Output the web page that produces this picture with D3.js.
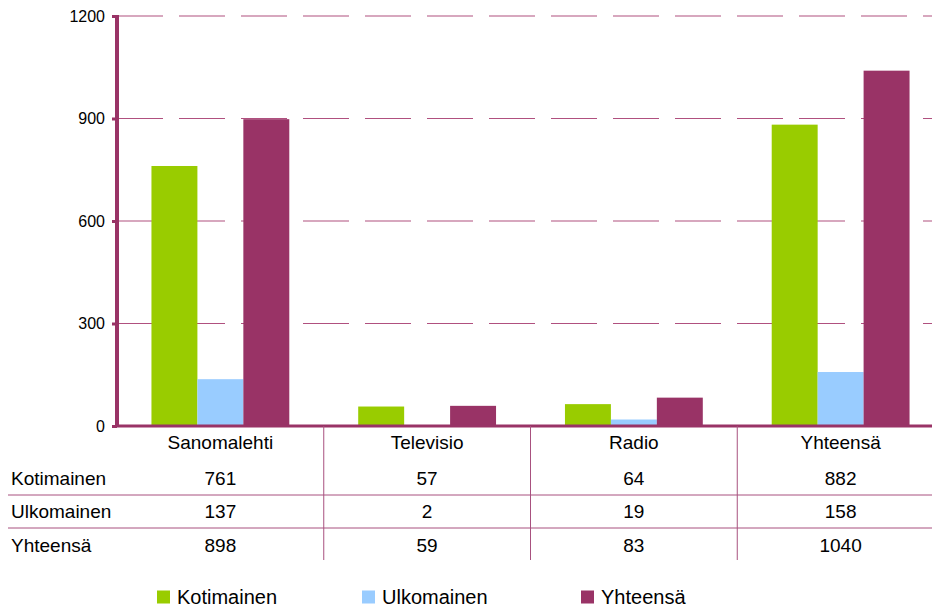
<!DOCTYPE html>
<html>
<head>
<meta charset="utf-8">
<script src="https://cdnjs.cloudflare.com/ajax/libs/d3/7.8.5/d3.min.js"></script>
<style>
  body { margin: 0; background: #fff; }
  text { font-family: "Liberation Sans", Arial, sans-serif; fill: #000; }
</style>
</head>
<body>
<div id="chart"></div>
<script>
  const categories = ['Sanomalehti', 'Televisio', 'Radio', 'Yhteensä'];
  const seriesNames = ['Kotimainen', 'Ulkomainen', 'Yhteensä'];
  const kotimainen = [761, 57, 64, 882];
  const ulkomainen = [137, 2, 19, 158];
  const yhteensa = [898, 59, 83, 1040];
  const yTicks = [0, 300, 600, 900, 1200];
  const colors = ['#99cc00', '#99ccff', '#993366'];

  const series = [kotimainen, ulkomainen, yhteensa];
  const W = 932, H = 607;
  const plotLeft = 117, plotRight = 932, plotTop = 16, plotBottom = 426;

  const svg = d3.select('#chart').append('svg')
    .attr('width', W).attr('height', H);

  const x = d3.scaleBand().domain(categories).range([plotLeft, plotRight + 12]);
  const xs = d3.scaleBand().domain(seriesNames)
    .range([0, x.bandwidth()]).paddingInner(0).paddingOuter(0.75);
  const y = d3.scaleLinear().domain([0, 1200]).range([plotBottom, plotTop]);

  // dashed gridlines
  svg.append('g')
    .selectAll('line')
    .data(yTicks.filter(d => d > 0))
    .join('line')
    .attr('x1', plotLeft).attr('x2', plotRight)
    .attr('y1', d => y(d)).attr('y2', d => y(d))
    .attr('stroke', '#b0507f')
    .attr('stroke-width', 1.2)
    .attr('stroke-dasharray', '46,16');

  // bars
  series.forEach((vals, si) => {
    svg.append('g')
      .selectAll('rect')
      .data(vals)
      .join('rect')
      .attr('x', (d, i) => x(categories[i]) + xs(seriesNames[si]))
      .attr('width', xs.bandwidth())
      .attr('y', d => y(d))
      .attr('height', d => plotBottom - y(d))
      .attr('fill', colors[si]);
  });

  // y axis
  const yAxis = svg.append('g')
    .attr('transform', `translate(${plotLeft},0)`)
    .call(d3.axisLeft(y).tickValues(yTicks).tickFormat(d3.format('d'))
      .tickSize(5).tickPadding(7));
  yAxis.select('.domain').remove();
  yAxis.selectAll('.tick line').attr('stroke', '#993366').attr('stroke-width', 3);
  yAxis.selectAll('.tick text')
    .style('font-size', '16px')
    .attr('font-family', '"Liberation Sans", Arial, sans-serif');

  svg.append('line')
    .attr('x1', plotLeft).attr('x2', plotLeft)
    .attr('y1', plotTop - 1).attr('y2', plotBottom + 1)
    .attr('stroke', '#993366').attr('stroke-width', 4);
  svg.append('line')
    .attr('x1', plotLeft - 2).attr('x2', plotRight)
    .attr('y1', plotBottom).attr('y2', plotBottom)
    .attr('stroke', '#993366').attr('stroke-width', 3);

  // data table
  const tableLine = '#a8517f';
  const rowY = [442, 478, 511, 545];
  const table = svg.append('g');

  table.selectAll('line.v')
    .data(categories.slice(1))
    .join('line')
    .attr('class', 'v')
    .attr('x1', d => x(d)).attr('x2', d => x(d))
    .attr('y1', plotBottom).attr('y2', 560)
    .attr('stroke', tableLine).attr('stroke-width', 1);

  table.selectAll('line.h')
    .data([495, 528])
    .join('line')
    .attr('class', 'h')
    .attr('x1', 8).attr('x2', plotRight)
    .attr('y1', d => d).attr('y2', d => d)
    .attr('stroke', tableLine).attr('stroke-width', 1);

  table.selectAll('text.cat')
    .data(categories)
    .join('text')
    .attr('class', 'cat')
    .attr('x', d => x(d) + x.bandwidth() / 2)
    .attr('y', rowY[0])
    .attr('dy', '0.35em')
    .attr('text-anchor', 'middle')
    .style('font-size', '19px')
    .text(d => d);

  series.forEach((vals, si) => {
    table.append('text')
      .attr('x', 11)
      .attr('y', rowY[si + 1])
      .attr('dy', '0.35em')
      .style('font-size', '19px')
      .text(seriesNames[si]);
    table.append('g')
      .selectAll('text')
      .data(vals)
      .join('text')
      .attr('x', (d, i) => x(categories[i]) + x.bandwidth() / 2)
      .attr('y', rowY[si + 1])
      .attr('dy', '0.35em')
      .attr('text-anchor', 'middle')
      .style('font-size', '19px')
      .text(d => d);
  });

  // legend
  const legendX = [157, 362, 581];
  const legend = svg.append('g')
    .selectAll('g')
    .data(seriesNames)
    .join('g')
    .attr('transform', (d, i) => `translate(${legendX[i]}, 597)`);
  legend.append('rect')
    .attr('x', 0).attr('y', -6.5)
    .attr('width', 13).attr('height', 13)
    .attr('fill', (d, i) => colors[i]);
  legend.append('text')
    .attr('x', 20).attr('y', 0).attr('dy', '0.35em')
    .style('font-size', '20px')
    .text(d => d);
</script>
</body>
</html>
